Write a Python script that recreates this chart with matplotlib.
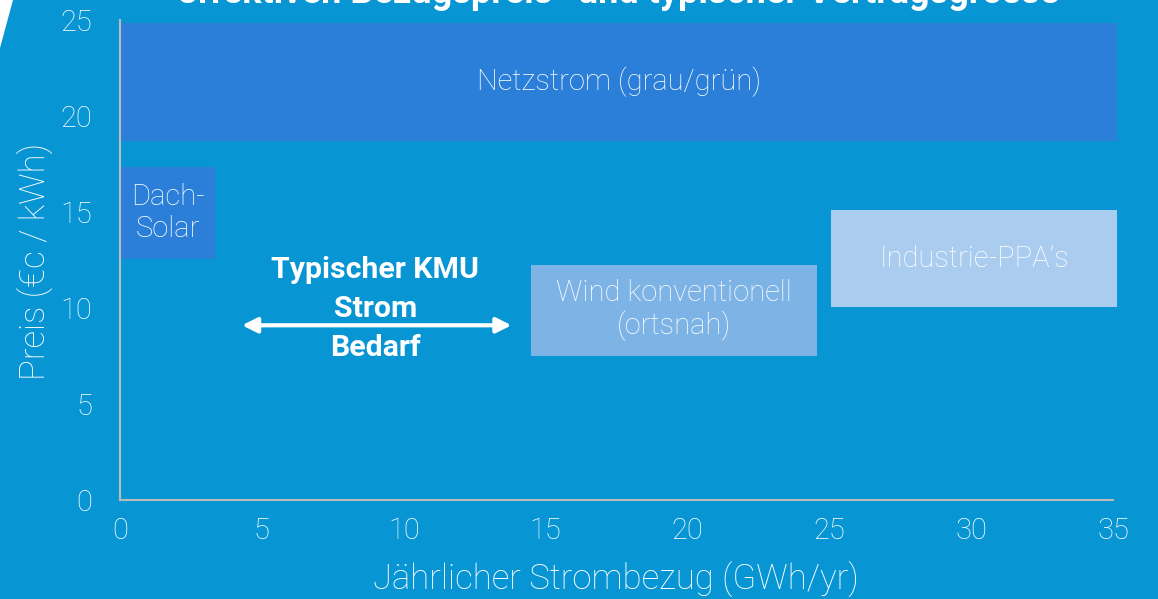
import matplotlib
matplotlib.use("Agg")
import matplotlib.pyplot as plt
from matplotlib.patches import Polygon

# ---- data ----
categories = ["Netzstrom (grau/grün)", "Dach-\nSolar", "Wind konventionell\n(ortsnah)", "Industrie-PPA’s"]
x_start = [0.0, 0.0, 14.5, 25.05]
x_end = [35.15, 3.35, 24.55, 35.15]
y_low = [18.7, 12.55, 7.5, 10.05]
y_high = [24.85, 17.35, 12.25, 15.1]
box_colors = ["#2b7fd8", "#2b7fd8", "#7db3e5", "#aacdef"]

kmu_text = "Typischer KMU\nStrom\nBedarf"
kmu_range = [4.3, 13.8]
kmu_y = 9.1
kmu_text_x = 9.0
kmu_text_y = 9.95

x_ticks = [0, 5, 10, 15, 20, 25, 30, 35]
y_ticks = [0, 5, 10, 15, 20, 25]
title = "effektiven Bezugspreis* und typischer Vertragsgrösse"

BG = "#0795d4"
FONT = "Roboto"
LIGHT = "light"

fig = plt.figure(figsize=(11.58, 5.99), dpi=100, facecolor=BG)
ax = fig.add_axes([120 / 1158, 99 / 599, 993 / 1158, 480 / 599])
ax.set_facecolor(BG)

for c, x0, x1, y0, y1, col in zip(categories, x_start, x_end, y_low, y_high, box_colors):
    ax.bar(x0, y1 - y0, width=x1 - x0, bottom=y0, align="edge", color=col,
           edgecolor="none", zorder=2, clip_on=False)
    ax.text((x0 + x1) / 2, (y0 + y1) / 2, c, ha="center", va="center",
            color="white", fontsize=21, family=FONT, fontweight=LIGHT,
            linespacing=1.15, zorder=3)

ax.annotate("", xy=(kmu_range[1], kmu_y), xytext=(kmu_range[0], kmu_y),
            arrowprops=dict(arrowstyle="<|-|>,head_length=0.9,head_width=0.45",
                            color="white", lw=3, shrinkA=0, shrinkB=0), zorder=3)
ax.text(kmu_text_x, kmu_text_y, kmu_text, ha="center", va="center",
        color="white", fontsize=21.8, family=FONT, fontweight="bold",
        linespacing=1.52, zorder=4)

ax.set_xlim(0, 35)
ax.set_ylim(0, 25)
ax.set_xticks(x_ticks)
ax.set_yticks(y_ticks)
ax.tick_params(length=0, colors="white", labelsize=21)
ax.tick_params(axis="y", pad=20)
ax.tick_params(axis="x", pad=12)
for lab in ax.get_xticklabels() + ax.get_yticklabels():
    lab.set_family(FONT)
    lab.set_fontweight(LIGHT)

for s in ["top", "right"]:
    ax.spines[s].set_visible(False)
for s in ["left", "bottom"]:
    ax.spines[s].set_color("#bbbbbb")
    ax.spines[s].set_linewidth(1.5)

ax.set_xlabel("Jährlicher Strombezug (GWh/yr)", color="white", fontsize=25,
              family=FONT, fontweight=LIGHT)
ax.set_ylabel("Preis (€c / kWh)", color="white", fontsize=25,
              family=FONT, fontweight=LIGHT)
ax.xaxis.set_label_coords(0.4995, -0.13)
ax.yaxis.set_label_coords(-0.066, 0.496)

fig.text(618 / 1158, (599 - 3) / 599, title, ha="center", va="baseline",
         color="white", fontsize=26, family=FONT, fontweight="bold")

# white slide edge at top-left
fig.patches.append(Polygon([(0, 1), (13 / 1158, 1), (0, 1 - 48 / 599)],
                           closed=True, transform=fig.transFigure,
                           facecolor="white", edgecolor="none"))

fig.savefig("out.png", dpi=100, facecolor=BG)
